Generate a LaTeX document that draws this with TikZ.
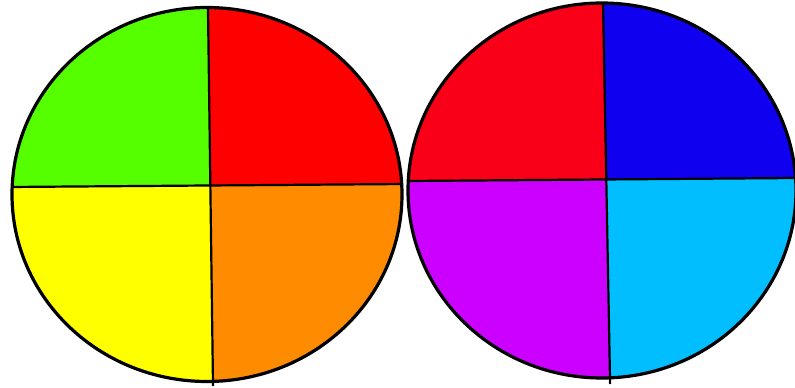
\documentclass[tikz,border=0pt]{standalone}
\definecolor{cgreen}{RGB}{85,255,0}
\definecolor{cred}{RGB}{255,0,0}
\definecolor{cyellow}{RGB}{255,255,0}
\definecolor{corange}{RGB}{255,140,0}
\definecolor{cred2}{RGB}{250,0,24}
\definecolor{cblue}{RGB}{16,0,240}
\definecolor{cpurple}{RGB}{204,0,255}
\definecolor{ccyan}{RGB}{0,190,255}
\begin{document}
\begin{tikzpicture}[x=1pt,y=-1pt,
  outline/.style={draw=black,line width=3.2pt},
  divider/.style={draw=black,line width=2.2pt}]
\useasboundingbox (0,0) rectangle (795,388);
% left circle
\coordinate (LC) at (210.4,185.5);
\begin{scope}
\clip (207,194.5) ellipse [x radius=195, y radius=187];
\fill[cgreen] (LC) -- (207.8,-5) -- (-5,-5) -- (-5,187.1) -- cycle;
\fill[cred] (LC) -- (207.8,-5) -- (420,-5) -- (420,183.9) -- cycle;
\fill[cyellow] (LC) -- (-5,187.1) -- (-5,400) -- (213.2,400) -- cycle;
\fill[corange] (LC) -- (213.2,400) -- (420,400) -- (420,183.9) -- cycle;
\draw[divider] (207.8,-5) -- (213.2,400);
\draw[divider] (-5,187.1) -- (420,183.9);
\end{scope}
\draw[outline] (207,194.5) ellipse [x radius=195, y radius=187];
\coordinate (LB) at (213.1,386);
\draw[divider] (LC) ++(2.6,195) -- (LB);
% right circle
\coordinate (RC) at (606.3,179.5);
\begin{scope}
\clip (602,190.5) ellipse [x radius=194, y radius=187.5];
\fill[cred2] (RC) -- (602.85,-5) -- (395,-5) -- (395,181.1) -- cycle;
\fill[cblue] (RC) -- (602.85,-5) -- (810,-5) -- (810,177.9) -- cycle;
\fill[cpurple] (RC) -- (395,181.1) -- (395,395) -- (610.3,395) -- cycle;
\fill[ccyan] (RC) -- (610.3,395) -- (810,395) -- (810,177.9) -- cycle;
\draw[divider] (602.85,-5) -- (610.3,395);
\draw[divider] (395,181.1) -- (810,177.9);
\end{scope}
\draw[outline] (602,190.5) ellipse [x radius=194, y radius=187.5];
\coordinate (RB) at (610.1,384);
\draw[divider] (RC) ++(3.7,197) -- (RB);
\end{tikzpicture}
\end{document}
